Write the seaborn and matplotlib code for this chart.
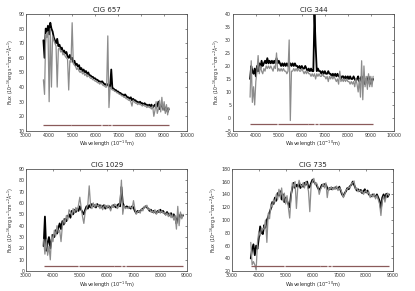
import numpy as np
import pandas as pd
import seaborn as sns
import matplotlib.pyplot as plt

# spectra sampled every 50 A
step = 50

# CIG 657
w657_start = 3750
obs_657 = [72, 60, 80, 78, 82, 76, 84, 80, 78, 74,
           72, 70, 73, 68, 69, 66, 67, 64, 65, 63,
           64, 61, 60, 62, 59, 60, 57, 58, 55, 56,
           54, 55, 52, 53, 51, 52, 50, 51, 49, 50,
           48, 48, 47, 47, 46, 46, 45, 45, 44, 44,
           43, 44, 43, 42, 42, 41, 42, 41, 40, 52,
           39, 39, 38, 38, 37, 37, 36, 36, 35, 35,
           34, 35, 34, 33, 33, 32, 33, 31, 32, 31,
           31, 30, 30, 29, 30, 29, 29, 28, 29, 28,
           28, 27, 28, 27, 28, 26, 27, 28, 26, 27,
           30, 25, 27, 28, 25, 27, 24, 26, 23, 25]
fit_657 = [45, 35, 76, 74, 78, 30, 80, 40, 75, 72,
           70, 68, 40, 66, 67, 64, 65, 62, 63, 61,
           60, 59, 38, 58, 57, 84, 56, 55, 54, 52,
           53, 51, 50, 51, 49, 50, 48, 49, 47, 48,
           47, 46, 46, 45, 45, 44, 44, 43, 43, 42,
           43, 42, 41, 41, 40, 40, 75, 26, 40, 39,
           38, 38, 37, 37, 36, 36, 35, 35, 34, 34,
           33, 33, 32, 32, 31, 31, 30, 27, 31, 30,
           29, 29, 28, 29, 28, 28, 27, 28, 27, 27,
           26, 27, 26, 26, 25, 27, 20, 24, 30, 22,
           25, 31, 23, 33, 24, 30, 22, 28, 21, 26]

# CIG 344
w344_start = 3750
obs_344 = [15, 20, 18, 17, 19, 16, 20, 18, 21, 19,
           22, 20, 21, 22, 21, 23, 21, 22, 21, 22,
           21, 22, 21, 23, 21, 22, 21, 20, 21, 20,
           21, 20, 21, 20, 20, 21, 20, 21, 20, 21,
           20, 20, 19, 20, 19, 20, 19, 19, 20, 19,
           18, 19, 18, 19, 18, 18, 40, 28, 18, 19,
           18, 18, 17, 18, 17, 18, 17, 17, 18, 17,
           17, 16, 17, 16, 17, 16, 17, 16, 16, 15,
           16, 16, 15, 16, 15, 16, 15, 16, 15, 15,
           16, 15, 14, 15, 16, 14, 15, 16, 14, 15,
           13, 15, 14, 16, 13, 15, 14, 15]
fit_344 = [8, 22, 6, 12, 5, 14, 18, 24, 17, 20,
           18, 17, 19, 18, 20, 19, 20, 19, 20, 19,
           18, 20, 19, 25, 18, 19, 18, 19, 18, 19,
           18, 18, 17, 18, 30, -1, 18, 18, 19, 18,
           19, 18, 19, 18, 18, 19, 18, 17, 18, 17,
           18, 17, 17, 16, 17, 16, 17, 15, 17, 16,
           17, 16, 16, 17, 16, 16, 15, 16, 14, 16,
           15, 16, 15, 16, 15, 14, 15, 13, 18, 14,
           15, 14, 15, 14, 15, 14, 14, 13, 14, 13,
           14, 12, 15, 13, 10, 15, 8, 22, 7, 20,
           12, 16, 11, 17, 12, 16, 12, 16]

# CIG 1029
w1029_start = 3650
obs_1029 = [22, 48, 18, 25, 30, 20, 28, 32, 30, 36,
            33, 38, 42, 37, 44, 41, 46, 44, 48, 50,
            47, 53, 50, 54, 52, 55, 53, 57, 54, 52,
            50, 54, 57, 55, 58, 56, 59, 57, 58, 56,
            59, 57, 58, 56, 57, 58, 55, 57, 56, 57,
            55, 57, 58, 57, 56, 58, 59, 57, 74, 60,
            57, 56, 57, 56, 56, 55, 57, 56, 53, 51,
            53, 52, 53, 54, 55, 56, 57, 56, 55, 53,
            54, 52, 53, 52, 51, 53, 52, 54, 52, 53,
            51, 50, 52, 50, 49, 51, 48, 50, 47, 42,
            49, 46, 50, 48, 49]
fit_1029 = [28, 15, 28, 14, 22, 10, 32, 26, 36, 31,
            40, 34, 36, 26, 40, 46, 42, 49, 45, 54,
            52, 49, 55, 51, 56, 53, 58, 65, 56, 48,
            42, 52, 55, 59, 75, 58, 55, 60, 56, 59,
            57, 58, 55, 58, 54, 57, 58, 55, 58, 56,
            53, 58, 56, 59, 58, 55, 57, 60, 80, 50,
            58, 55, 56, 55, 57, 56, 55, 62, 55, 50,
            52, 53, 51, 55, 53, 57, 56, 58, 54, 55,
            52, 53, 51, 54, 50, 52, 54, 51, 53, 51,
            52, 49, 51, 48, 51, 47, 50, 45, 49, 37,
            57, 40, 52, 46, 50]

# CIG 735
w735_start = 3700
obs_735 = [40, 55, 62, 45, 60, 55, 72, 90, 80, 78,
           92, 88, 100, 105, 112, 118, 128, 125, 135, 130,
           142, 138, 145, 132, 140, 128, 135, 130, 125, 120,
           140, 150, 158, 150, 155, 152, 158, 150, 155, 152,
           158, 155, 160, 150, 152, 158, 163, 160, 157, 155,
           150, 147, 150, 155, 153, 156, 155, 150, 147, 150,
           148, 150, 149, 151, 150, 148, 152, 146, 140, 137,
           142, 145, 150, 148, 153, 155, 160, 155, 150, 146,
           148, 145, 147, 142, 145, 148, 143, 146, 140, 138,
           137, 140, 138, 136, 140, 135, 130, 118, 135, 140,
           133, 141, 136, 140]
fit_735 = [65, 30, 35, 30, 22, 65, 82, 75, 87, 85,
           88, 100, 65, 110, 102, 125, 120, 132, 128, 140,
           132, 148, 135, 150, 130, 142, 125, 138, 120, 103,
           135, 158, 152, 160, 118, 150, 162, 155, 152, 158,
           150, 160, 156, 145, 113, 155, 160, 165, 155, 158,
           152, 140, 148, 152, 157, 150, 158, 135, 150, 148,
           152, 147, 151, 148, 153, 146, 150, 148, 142, 135,
           140, 147, 148, 152, 150, 157, 158, 161, 148, 150,
           144, 147, 143, 146, 140, 144, 146, 141, 144, 135,
           140, 136, 141, 133, 138, 132, 125, 107, 130, 137,
           128, 138, 142, 138]

titles = ["CIG 657", "CIG 344", "CIG 1029", "CIG 735"]
starts = [w657_start, w344_start, w1029_start, w735_start]
observed = [obs_657, obs_344, obs_1029, obs_735]
fitted = [fit_657, fit_344, fit_1029, fit_735]
xlims = [(3000, 10000), (3000, 10000), (3000, 9000), (3000, 9000)]
ylims = [(10, 90), (-5, 40), (0, 90), (20, 180)]
yticks = [range(10, 91, 10), range(-5, 41, 5), range(0, 91, 10), range(20, 181, 20)]
mask_level = [14, -2.5, 5, 28]
mask_gaps = [(4940, 4965), (6270, 6290), (6545, 6580), (6700, 6730)]

sns.set_style("white", {"xtick.direction": "in", "ytick.direction": "in",
                        "axes.edgecolor": "#555555"})
plt.rcParams['font.family'] = ['DejaVu Sans']

fig = plt.figure(figsize=(4.15, 2.91), dpi=100)
boxes = [[0.063, 0.550, 0.388, 0.402],
         [0.561, 0.550, 0.388, 0.402],
         [0.063, 0.068, 0.388, 0.352],
         [0.559, 0.068, 0.388, 0.352]]

for i in range(4):
    ax = fig.add_axes(boxes[i])
    flux = observed[i]
    wave = starts[i] + step * np.arange(len(flux))
    df = pd.DataFrame({"wave": wave, "obs": flux, "fit": fitted[i]})
    sns.lineplot(data=df, x="wave", y="obs", color="black", lw=1.3, ax=ax)
    sns.lineplot(data=df, x="wave", y="fit", color="#8c8c8c", lw=0.9, ax=ax)

    # masked regions line
    edges = [wave[0]] + [e for g in mask_gaps for e in g] + [wave[-1]]
    ax.hlines([mask_level[i]] * (len(edges) // 2), edges[0::2], edges[1::2],
              color="#8a5a5a", lw=0.9)

    ax.set_xlim(*xlims[i])
    ax.set_ylim(*ylims[i])
    ax.set_yticks(list(yticks[i]))
    ax.set_xticks(list(range(xlims[i][0], xlims[i][1] + 1, 1000)))
    ax.tick_params(labelsize=3.4, length=1.5, width=0.4,
                   top=True, right=True, colors="#333333")
    ax.tick_params(axis="x", pad=1.6)
    ax.tick_params(axis="y", pad=1.2)
    for s in ax.spines.values():
        s.set_linewidth(0.6)
    ax.set_title(titles[i], fontsize=5, pad=1.5)
    ax.set_xlabel(r"Wavelength ($10^{-10}$m)", fontsize=3.6, labelpad=0.6)
    ax.set_ylabel(r"Flux ($10^{-16}$erg s$^{-1}$cm$^{-2}$Å$^{-1}$)", fontsize=3.3, labelpad=1.5)

fig.savefig("out.png", dpi=100)
